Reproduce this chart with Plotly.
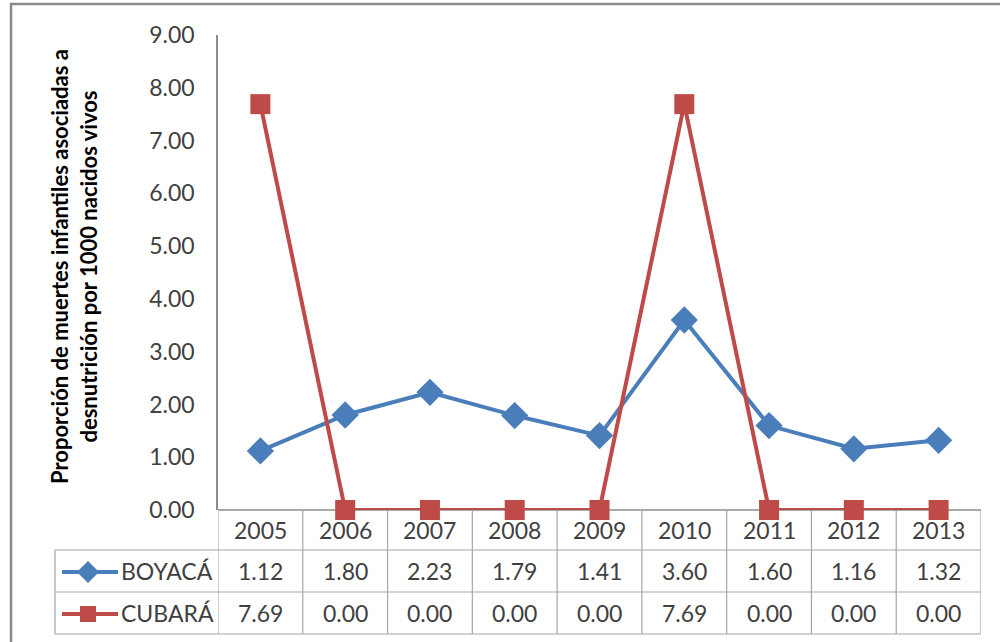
import plotly.graph_objects as go

# Data
years = ["2005", "2006", "2007", "2008", "2009", "2010", "2011", "2012", "2013"]
boyaca = [1.12, 1.80, 2.23, 1.79, 1.41, 3.60, 1.60, 1.16, 1.32]
cubara = [7.69, 0.00, 0.00, 0.00, 0.00, 7.69, 0.00, 0.00, 0.00]
series_names = ["BOYACÁ", "CUBARÁ"]
y_ticks = [0, 1, 2, 3, 4, 5, 6, 7, 8, 9]
y_title = "<b>Proporción de muertes infantiles asociadas a<br>desnutrición por 1000 nacidos vivos</b>"

W, H = 1000, 642
BLUE = "#4A7EBB"
RED = "#BE4B48"
GRID = "#A6A6A6"
TXT = "#404040"
FONT = "Lato"


def py(p):
    """pixel row -> paper y"""
    return 1 - p / H


# plot area in pixels
PL, PR, PT, PB = 218, 981, 35, 510
# table rows (pixel rows)
ROW_HDR = (510, 550)
ROW_1 = (550, 592)
ROW_2 = (592, 634)
TABLE_LEFT = 55

xs = list(range(len(years)))

fig = go.Figure()

# legend keys inside the data table (pixel axes x2/y2)
key_x0, key_x1, key_xm = 62, 118, 88
for name, color, sym, size, row in [
    (series_names[0], BLUE, "diamond", 17, ROW_1),
    (series_names[1], RED, "square", 16, ROW_2),
]:
    yc = (row[0] + row[1]) / 2 + 1
    fig.add_trace(go.Scatter(
        x=[key_x0, key_x1], y=[yc, yc], mode="lines",
        line=dict(color=color, width=4), xaxis="x2", yaxis="y2",
        showlegend=False, hoverinfo="skip",
    ))
    fig.add_trace(go.Scatter(
        x=[key_xm], y=[yc], mode="markers",
        marker=dict(symbol=sym, size=size, color=color), xaxis="x2", yaxis="y2",
        showlegend=False, hoverinfo="skip",
    ))

fig.add_trace(go.Scatter(
    x=xs, y=boyaca, mode="lines+markers", name=series_names[0],
    line=dict(color=BLUE, width=4),
    marker=dict(symbol="diamond", size=21, color=BLUE),
    xaxis="x", yaxis="y", showlegend=False, cliponaxis=False,
))
fig.add_trace(go.Scatter(
    x=xs, y=cubara, mode="lines+markers", name=series_names[1],
    line=dict(color=RED, width=4),
    marker=dict(symbol="square", size=20, color=RED),
    xaxis="x", yaxis="y", showlegend=False, cliponaxis=False,
))

shapes = []
annotations = []

# outer chart border
shapes.append(dict(type="rect", xref="paper", yref="paper",
                   x0=11 / W, x1=1010 / W, y0=py(660), y1=py(4),
                   line=dict(color="#8A8A8A", width=2.5), layer="below"))

# table horizontal rules
for yy in [ROW_1[0], ROW_2[0], ROW_2[1]]:
    shapes.append(dict(type="line", xref="paper", yref="paper",
                       x0=TABLE_LEFT / W, x1=PR / W, y0=py(yy), y1=py(yy),
                       line=dict(color=GRID, width=1.2), layer="below"))
# header top rule (category axis line)
shapes.append(dict(type="line", xref="paper", yref="paper",
                   x0=PL / W, x1=PR / W, y0=py(PB), y1=py(PB),
                   line=dict(color="#8C8C8C", width=1.5), layer="below"))
# table vertical rules at category boundaries
for i in range(len(years) + 1):
    shapes.append(dict(type="line", xref="x", yref="paper",
                       x0=i - 0.5, x1=i - 0.5, y0=py(ROW_2[1]), y1=py(ROW_HDR[0]),
                       line=dict(color=GRID, width=1.2), layer="below"))
shapes.append(dict(type="line", xref="paper", yref="paper",
                   x0=TABLE_LEFT / W, x1=TABLE_LEFT / W, y0=py(ROW_2[1]), y1=py(ROW_1[0]),
                   line=dict(color=GRID, width=1.2), layer="below"))

# header: years
for i, yr in enumerate(years):
    annotations.append(dict(x=i, y=py((ROW_HDR[0] + ROW_HDR[1]) / 2), xref="x", yref="paper",
                            text=yr, showarrow=False, xanchor="center", yanchor="middle",
                            font=dict(family=FONT, size=23, color=TXT)))
# value rows
for vals, row in [(boyaca, ROW_1), (cubara, ROW_2)]:
    for i, v in enumerate(vals):
        annotations.append(dict(x=i, y=py((row[0] + row[1]) / 2), xref="x", yref="paper",
                                text=f"{v:.2f}", showarrow=False, xanchor="center", yanchor="middle",
                                font=dict(family=FONT, size=23, color=TXT)))
# series names
for name, row in [(series_names[0], ROW_1), (series_names[1], ROW_2)]:
    annotations.append(dict(x=119 / W, y=py((row[0] + row[1]) / 2), xref="paper", yref="paper",
                            text=name, showarrow=False, xanchor="left", yanchor="middle",
                            font=dict(family=FONT, size=23, color=TXT)))

# y axis title
annotations.append(dict(x=74 / W, y=py(267), xref="paper", yref="paper",
                        text=y_title, showarrow=False, textangle=-90,
                        xanchor="center", yanchor="middle",
                        font=dict(family=FONT, size=22, color="#000000")))

fig.update_layout(
    width=W, height=H,
    margin=dict(l=0, r=0, t=0, b=0, pad=0, autoexpand=False),
    paper_bgcolor="white", plot_bgcolor="rgba(0,0,0,0)",
    xaxis=dict(domain=[PL / W, PR / W], range=[-0.5, len(years) - 0.5],
               showticklabels=False, showgrid=False, zeroline=False, showline=False,
               fixedrange=True, automargin=False),
    yaxis=dict(domain=[py(PB), py(PT)], range=[0, 9], tickvals=y_ticks,
               ticktext=[f"{t:.2f}" for t in y_ticks],
               tickfont=dict(family=FONT, size=23, color=TXT),
               showgrid=False, zeroline=False, showline=True, linecolor="#8C8C8C",
               linewidth=1.5, ticks="", ticklabelstandoff=17, automargin=False),
    xaxis2=dict(domain=[0, 1], range=[0, W], visible=False, fixedrange=True, automargin=False),
    yaxis2=dict(domain=[0, 1], range=[H, 0], visible=False, fixedrange=True, automargin=False),
    shapes=shapes,
    annotations=annotations,
)

fig.write_html("out.html")
